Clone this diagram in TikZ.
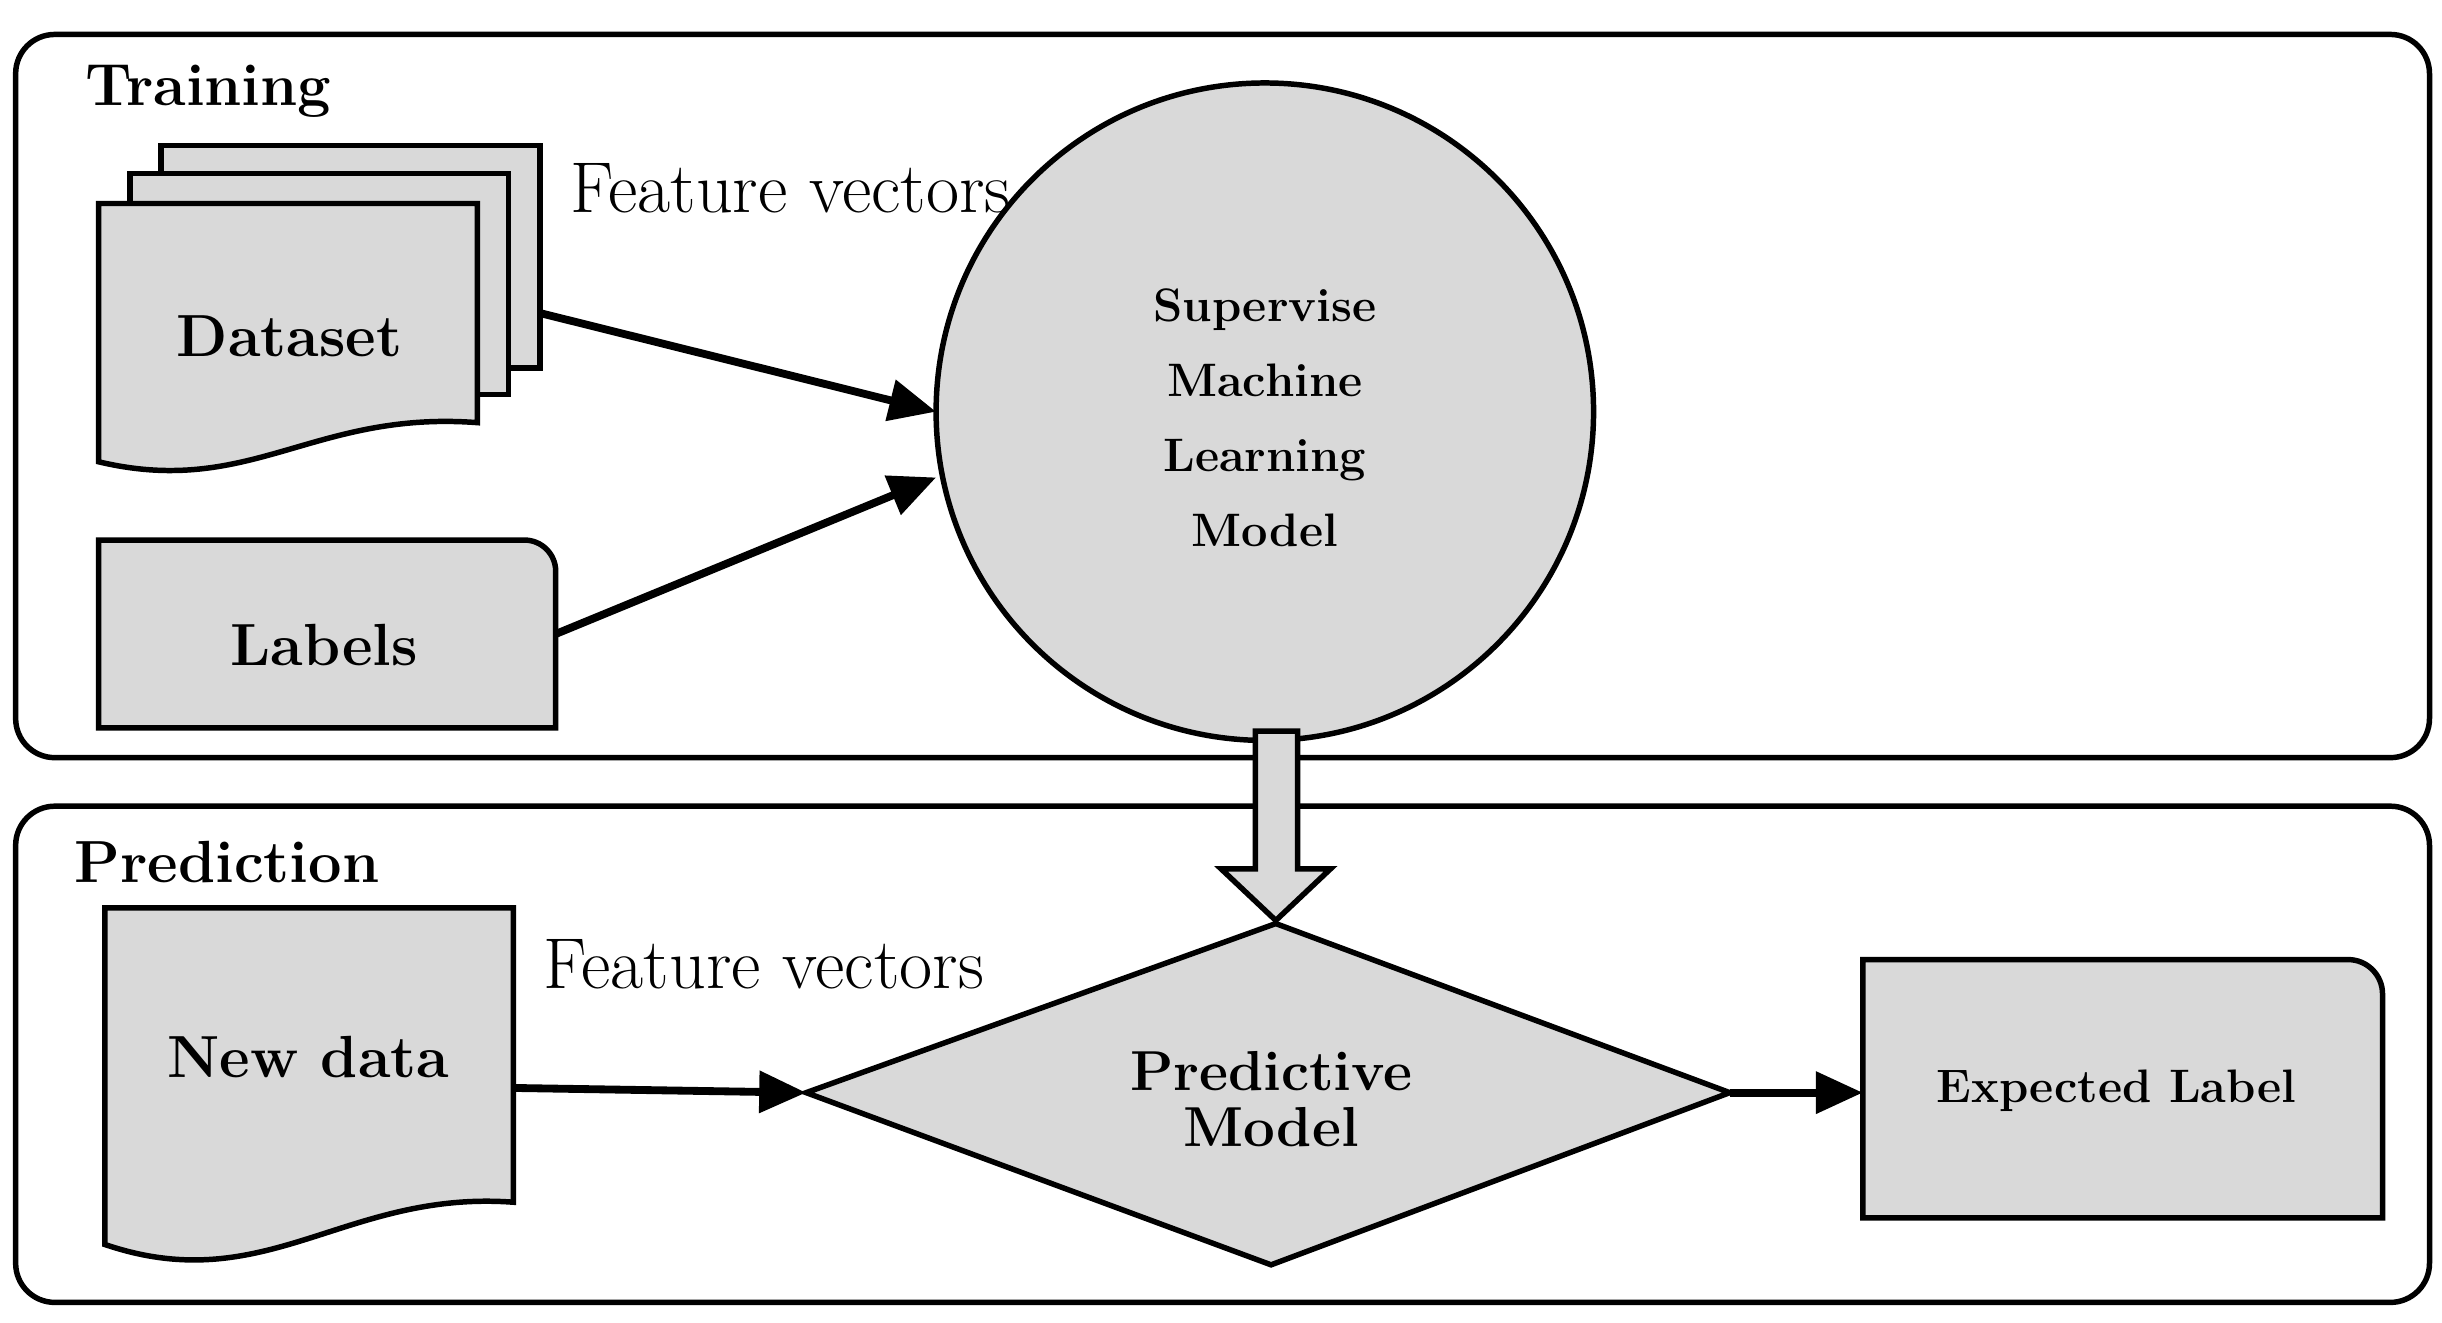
\documentclass[tikz,border=0pt]{standalone}
\usetikzlibrary{arrows.meta}
\begin{document}
\begin{tikzpicture}[x=1pt,y=-1pt,
  box/.style={line width=3.5pt,rounded corners=25pt},
  shp/.style={draw,line width=3.5pt,fill=black!15},
  arr/.style={line width=5pt,-{Triangle[length=30pt,width=26pt]}},
  bt/.style={font=\fontsize{38}{42}\selectfont\bfseries},
  ct/.style={font=\fontsize{30}{34}\selectfont\bfseries},
  nt/.style={font=\fontsize{46}{50}\selectfont}]
\useasboundingbox (0,0) rectangle (1560,845);
% Training panel
\draw[box] (10,22) rectangle (1552,484);
\node[bt] (ttr) at (133,58) {Training};
% Dataset stack
\draw[shp] (103,93) rectangle (345,235);
\draw[shp] (83,111) rectangle (325,252);
\draw[shp] (63,130) -- (305,130) -- (305,270) .. controls (200,262) and (160,318) .. (63,295) -- cycle;
\node[bt] (ds) at (185,215) {Dataset};
\coordinate (dsout) at (345,200);
% Labels
\draw[shp] (63,465) -- (63,345) [rounded corners=20pt] -- (355,345) [sharp corners] -- (355,465) -- cycle;
\node[bt] (lab) at (207,412) {Labels};
\coordinate (labout) at (355,405);
\node[nt] (fv1) at (505,120) {Feature vectors};
% Circle
\node[shp,circle,minimum size=420pt,inner sep=0pt] (sml) at (808,263) {};
\node[align=center,font=\fontsize{30}{48}\selectfont\bfseries] (smlt) at (808,267) {Supervise\\Machine\\Learning\\Model};
\coordinate (c1) at (598,263);
\coordinate (c2) at (598,305);
\draw[arr] (dsout) -- (c1);
\draw[arr] (labout) -- (c2);
% Prediction panel
\draw[box] (10,515) rectangle (1552,832);
\node[bt] (tpr) at (145,551) {Prediction};
% New data
\draw[shp] (67,580) -- (328,580) -- (328,768) .. controls (220,760) and (170,830) .. (67,795) -- cycle;
\node[bt] (nd) at (197,675) {New data};
\coordinate (ndout) at (328,695);
\node[nt] (fv2) at (488,616) {Feature vectors};
% Diamond
\draw[shp] (515,698) coordinate (dl) -- (815,590) coordinate (dt) -- (1105,698) coordinate (dr) -- (812,808) -- cycle;
\node[align=center,font=\fontsize{36}{36}\selectfont\bfseries] (pm) at (812,702) {Predictive\\Model};
\draw[arr] (ndout) -- (dl);
% Expected label
\draw[shp] (1190,778) -- (1190,613) [rounded corners=22pt] -- (1522,613) [sharp corners] -- (1522,778) -- cycle;
\node[ct] (el) at (1352,697) {Expected Label};
\coordinate (elin) at (1190,698);
\draw[arr] (dr) -- (elin);
% hollow arrow
\draw[shp] (802,467) -- (829,467) -- (829,555) -- (850,555) -- (815,588) -- (780,555) -- (802,555) -- cycle;
\end{tikzpicture}
\end{document}
